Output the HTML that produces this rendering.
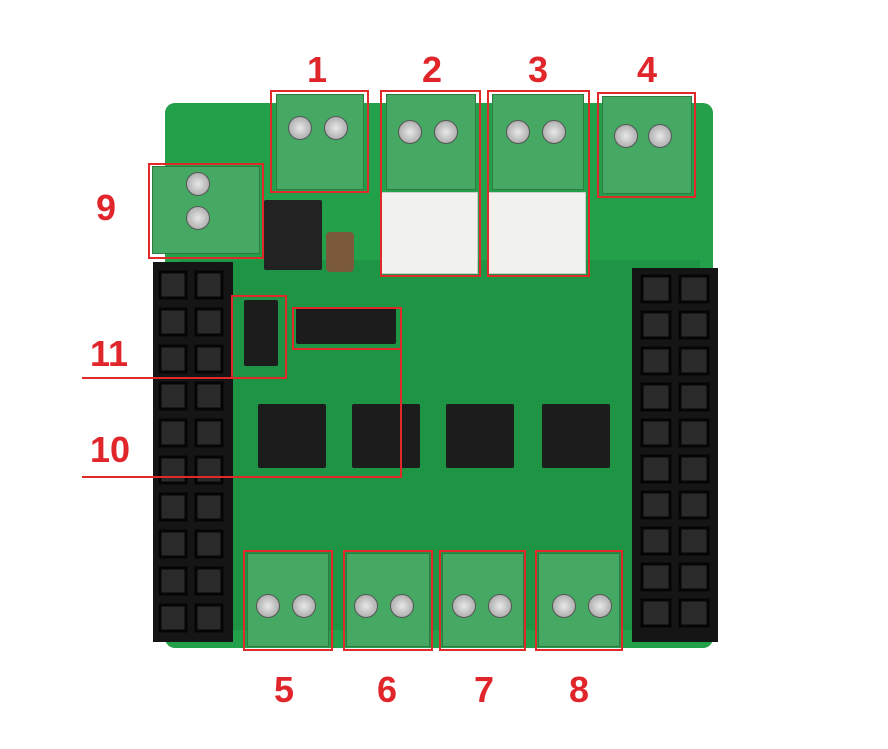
<!DOCTYPE html>
<html><head><meta charset="utf-8"><style>
body{margin:0;width:888px;height:749px;background:#fff;position:relative;overflow:hidden;font-family:"Liberation Sans",sans-serif}
div{position:absolute;box-sizing:border-box}
.r{border:2px solid #e02a2a}
.l{color:#e0262b;font-weight:bold;font-size:36px;line-height:36px}
.tb{background:#45a863;border:1px solid #2d7a45}
.sc{width:24px;height:24px;border-radius:50%;background:radial-gradient(#e8e8e8,#9a9a9a);border:1px solid #555}
.hdr{background:#151515}
.ic{background:#1c1c1c;border-radius:2px}
.wc{background:#f1f1ee;border:1px solid #ccc}
.ln{background:#e02a2a}
</style></head><body>
<div style="left:165px;top:103px;width:548px;height:545px;background:#22a04a;border-radius:10px"></div>
<div style="left:180px;top:260px;width:520px;height:370px;background:#1d9545"></div>
<div class="hdr" style="left:153px;top:262px;width:80px;height:380px"></div>
<div class="hdr" style="left:632px;top:268px;width:86px;height:374px"></div>
<svg style="position:absolute;left:0;top:0" width="888" height="749">
<g fill="#2a2a2a" stroke="#050505" stroke-width="3">
<rect x="160" y="272" width="26" height="26"/><rect x="196" y="272" width="26" height="26"/>
<rect x="160" y="309" width="26" height="26"/><rect x="196" y="309" width="26" height="26"/>
<rect x="160" y="346" width="26" height="26"/><rect x="196" y="346" width="26" height="26"/>
<rect x="160" y="383" width="26" height="26"/><rect x="196" y="383" width="26" height="26"/>
<rect x="160" y="420" width="26" height="26"/><rect x="196" y="420" width="26" height="26"/>
<rect x="160" y="457" width="26" height="26"/><rect x="196" y="457" width="26" height="26"/>
<rect x="160" y="494" width="26" height="26"/><rect x="196" y="494" width="26" height="26"/>
<rect x="160" y="531" width="26" height="26"/><rect x="196" y="531" width="26" height="26"/>
<rect x="160" y="568" width="26" height="26"/><rect x="196" y="568" width="26" height="26"/>
<rect x="160" y="605" width="26" height="26"/><rect x="196" y="605" width="26" height="26"/>
<rect x="642" y="276" width="28" height="26"/><rect x="680" y="276" width="28" height="26"/>
<rect x="642" y="312" width="28" height="26"/><rect x="680" y="312" width="28" height="26"/>
<rect x="642" y="348" width="28" height="26"/><rect x="680" y="348" width="28" height="26"/>
<rect x="642" y="384" width="28" height="26"/><rect x="680" y="384" width="28" height="26"/>
<rect x="642" y="420" width="28" height="26"/><rect x="680" y="420" width="28" height="26"/>
<rect x="642" y="456" width="28" height="26"/><rect x="680" y="456" width="28" height="26"/>
<rect x="642" y="492" width="28" height="26"/><rect x="680" y="492" width="28" height="26"/>
<rect x="642" y="528" width="28" height="26"/><rect x="680" y="528" width="28" height="26"/>
<rect x="642" y="564" width="28" height="26"/><rect x="680" y="564" width="28" height="26"/>
<rect x="642" y="600" width="28" height="26"/><rect x="680" y="600" width="28" height="26"/>
</g>
</svg>
<div class="tb" style="left:276px;top:94px;width:88px;height:96px"></div>
<div class="tb" style="left:386px;top:94px;width:90px;height:96px"></div>
<div class="tb" style="left:492px;top:94px;width:92px;height:96px"></div>
<div class="tb" style="left:602px;top:96px;width:90px;height:98px"></div>
<div class="tb" style="left:152px;top:166px;width:108px;height:88px"></div>
<div class="wc" style="left:380px;top:192px;width:98px;height:82px"></div>
<div class="wc" style="left:488px;top:192px;width:98px;height:82px"></div>
<div class="tb" style="left:247px;top:553px;width:82px;height:94px"></div>
<div class="tb" style="left:346px;top:553px;width:84px;height:94px"></div>
<div class="tb" style="left:442px;top:553px;width:82px;height:94px"></div>
<div class="tb" style="left:538px;top:553px;width:82px;height:94px"></div>
<div class="sc" style="left:288px;top:116px"></div><div class="sc" style="left:324px;top:116px"></div>
<div class="sc" style="left:398px;top:120px"></div><div class="sc" style="left:434px;top:120px"></div>
<div class="sc" style="left:506px;top:120px"></div><div class="sc" style="left:542px;top:120px"></div>
<div class="sc" style="left:614px;top:124px"></div><div class="sc" style="left:648px;top:124px"></div>
<div class="sc" style="left:186px;top:172px"></div><div class="sc" style="left:186px;top:206px"></div>
<div class="sc" style="left:256px;top:594px"></div><div class="sc" style="left:292px;top:594px"></div>
<div class="sc" style="left:354px;top:594px"></div><div class="sc" style="left:390px;top:594px"></div>
<div class="sc" style="left:452px;top:594px"></div><div class="sc" style="left:488px;top:594px"></div>
<div class="sc" style="left:552px;top:594px"></div><div class="sc" style="left:588px;top:594px"></div>
<div class="ic" style="left:258px;top:404px;width:68px;height:64px"></div>
<div class="ic" style="left:352px;top:404px;width:68px;height:64px"></div>
<div class="ic" style="left:446px;top:404px;width:68px;height:64px"></div>
<div class="ic" style="left:542px;top:404px;width:68px;height:64px"></div>
<div class="ic" style="left:264px;top:200px;width:58px;height:70px;background:#222"></div>
<div class="ic" style="left:244px;top:300px;width:34px;height:66px"></div>
<div class="ic" style="left:296px;top:308px;width:100px;height:36px"></div>
<div style="left:326px;top:232px;width:28px;height:40px;background:#7a5a3a;border-radius:4px"></div>
<div class="r" style="left:270px;top:90px;width:99px;height:103px"></div>
<div class="r" style="left:380px;top:90px;width:101px;height:187px"></div>
<div class="r" style="left:487px;top:90px;width:103px;height:187px"></div>
<div class="r" style="left:597px;top:92px;width:99px;height:106px"></div>
<div class="r" style="left:148px;top:163px;width:116px;height:96px"></div>
<div class="r" style="left:231px;top:295px;width:56px;height:84px"></div>
<div class="r" style="left:292px;top:307px;width:110px;height:43px"></div>
<div class="ln" style="left:82px;top:377px;width:205px;height:2px"></div>
<div class="ln" style="left:400px;top:307px;width:2px;height:171px"></div>
<div class="ln" style="left:82px;top:476px;width:320px;height:2px"></div>
<div class="r" style="left:243px;top:550px;width:90px;height:101px"></div>
<div class="r" style="left:343px;top:550px;width:90px;height:101px"></div>
<div class="r" style="left:439px;top:550px;width:87px;height:101px"></div>
<div class="r" style="left:535px;top:550px;width:88px;height:101px"></div>
<div class="l" style="left:307px;top:52px">1</div>
<div class="l" style="left:422px;top:52px">2</div>
<div class="l" style="left:528px;top:52px">3</div>
<div class="l" style="left:637px;top:52px">4</div>
<div class="l" style="left:96px;top:190px">9</div>
<div class="l" style="left:90px;top:336px">11</div>
<div class="l" style="left:90px;top:432px">10</div>
<div class="l" style="left:274px;top:672px">5</div>
<div class="l" style="left:377px;top:672px">6</div>
<div class="l" style="left:474px;top:672px">7</div>
<div class="l" style="left:569px;top:672px">8</div>
</body></html>
